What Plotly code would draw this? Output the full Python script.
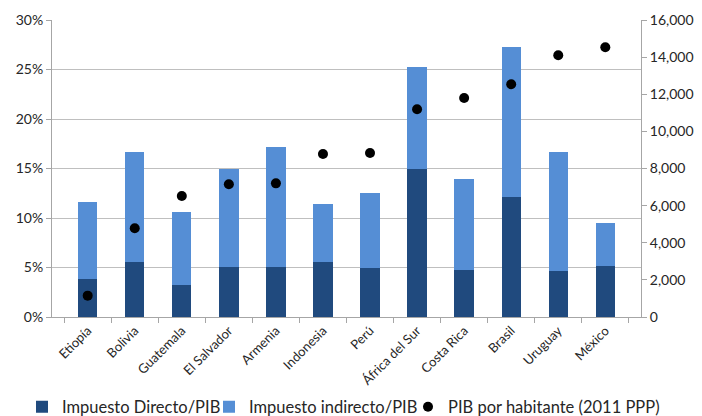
import plotly.graph_objects as go

categories = ["Etiopía", "Bolivia", "Guatemala", "El Salvador", "Armenia", "Indonesia",
              "Perú", "África del Sur", "Costa Rica", "Brasil", "Uruguay", "México"]
directo = [0.038, 0.0555, 0.0326, 0.0505, 0.0505, 0.0556, 0.0492, 0.1495, 0.0475, 0.1209, 0.0465, 0.0515]
total = [0.116, 0.167, 0.106, 0.1498, 0.1714, 0.1145, 0.125, 0.253, 0.1394, 0.273, 0.167, 0.0946]
indirecto = [t - d for t, d in zip(total, directo)]
pib = [1150, 4780, 6520, 7150, 7200, 8780, 8835, 11190, 11800, 12535, 14100, 14530]

FONT = "Lato"
fig = go.Figure()
fig.add_trace(go.Bar(x=categories, y=directo, name="Impuesto Directo/PIB", legend="legend",
                     marker=dict(color="#204A7E", line=dict(width=0))))
fig.add_trace(go.Bar(x=categories, y=indirecto, name="Impuesto indirecto/PIB", legend="legend2",
                     marker=dict(color="#558ED5", line=dict(width=0))))
fig.add_trace(go.Scatter(x=categories, y=pib, name="PIB por habitante (2011 PPP)", yaxis="y2",
                         legend="legend3", mode="markers", marker=dict(color="black", size=10)))

def leg(xpx):
    return dict(orientation="h", xref="container", yref="container",
                x=xpx / 702, xanchor="left", y=1 - 407 / 416, yanchor="middle",
                bgcolor="rgba(0,0,0,0)", font=dict(size=16.5, color="#262626"),
                itemwidth=30, borderwidth=0)

fig.update_layout(
    width=702, height=416,
    margin=dict(l=52, r=61, t=20, b=99, autoexpand=False),
    barmode="stack", bargap=0.59,
    plot_bgcolor="white", paper_bgcolor="white",
    font=dict(family=FONT, size=14, color="#262626"),
    showlegend=True,
    legend=leg(22), legend2=leg(209), legend3=leg(408),
    xaxis=dict(type="category", tickangle=-45, showline=True, linecolor="#A6A6A6",
               ticks="outside", tickson="boundaries", ticklen=5, tickcolor="#A6A6A6",
               tickfont=dict(size=13), showgrid=False, automargin=False),
    yaxis=dict(range=[0, 0.30], dtick=0.05, tickformat=".0%", showline=True,
               linecolor="#A6A6A6", ticks="outside", ticklen=5, tickcolor="#A6A6A6",
               showgrid=True, gridcolor="#BFBFBF", gridwidth=1, zeroline=False, automargin=False),
    yaxis2=dict(range=[0, 16000], dtick=2000, tickformat=",", overlaying="y", side="right",
                showline=True, linecolor="#A6A6A6", ticks="outside", ticklen=5,
                tickcolor="#A6A6A6", showgrid=False, zeroline=False, automargin=False),
)

fig.write_html("out.html", config={"displayModeBar": False},
               post_script="document.body.style.margin='0';")
